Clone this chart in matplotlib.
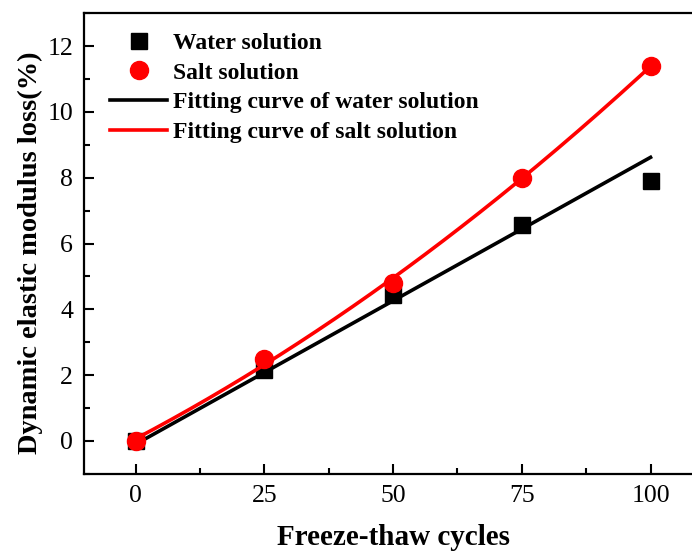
import numpy as np
import matplotlib
matplotlib.use("Agg")
import matplotlib.pyplot as plt
from matplotlib.ticker import MultipleLocator

plt.rcParams['font.family'] = ['Liberation Serif', 'DejaVu Serif']

# freeze-thaw cycles and measured modulus loss (%)
cycles = [0, 25, 50, 75, 100]
water_loss = [0.0, 2.15, 4.45, 6.57, 7.9]
salt_loss = [0.0, 2.5, 4.8, 8.0, 11.4]

# fitted curves: linear for water, quadratic least squares for salt
water_fit = [0.0872, -0.1]
salt_fit = np.polyfit(cycles, salt_loss, 2)

xf = np.linspace(0, 100, 200)

fig = plt.figure(figsize=(6.92, 5.51), dpi=100)
ax = fig.add_axes([0.1215, 0.14, 0.893, 0.836])

ax.plot(cycles, water_loss, 's', color='black', markersize=11, label='Water solution', zorder=3)
ax.plot(cycles, salt_loss, 'o', color='red', markersize=13, label='Salt solution', zorder=4)
ax.plot(xf, np.polyval(water_fit, xf), color='black', lw=2.6, label='Fitting curve of water solution', zorder=2)
ax.plot(xf, np.polyval(salt_fit, xf), color='red', lw=2.6, label='Fitting curve of salt solution', zorder=3)

ax.set_xlim(-10, 110)
ax.set_ylim(-1, 13)
ax.xaxis.set_major_locator(MultipleLocator(25))
ax.xaxis.set_minor_locator(MultipleLocator(12.5))
ax.yaxis.set_major_locator(MultipleLocator(2))
ax.yaxis.set_minor_locator(MultipleLocator(1))
ax.tick_params(which='major', direction='in', length=7, width=1.5, labelsize=18.5, pad=8)
ax.tick_params(which='minor', direction='in', length=4, width=1.5)
for s in ax.spines.values():
    s.set_linewidth(1.6)

ax.set_xlabel('Freeze-thaw cycles', fontsize=21, fontweight='bold', labelpad=12)
ax.set_ylabel('Dynamic elastic modulus loss(%)', fontsize=20.5, fontweight='bold')
ax.yaxis.set_label_coords(-0.066, 0.48)

ax.legend(loc='upper left', frameon=False, prop={'size': 17, 'weight': 'bold'},
          handlelength=2.4, handletextpad=0.25, labelspacing=0.35,
          borderaxespad=0, bbox_to_anchor=(0.027, 0.979))

fig.savefig('out.png', dpi=100)
